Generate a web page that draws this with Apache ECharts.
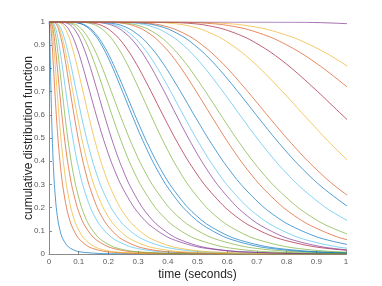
<!DOCTYPE html>
<html><head><meta charset="utf-8">
<script src="https://cdn.jsdelivr.net/npm/echarts@6/dist/echarts.min.js"></script>
<style>html,body{margin:0;padding:0;background:#fff}#c{width:382px;height:286px}</style>
</head><body><div id="c"></div>
<script>
// survival levels at which each curve's crossing time was read
const levels = [0.999, 0.99, 0.97, 0.93, 0.87, 0.8, 0.7, 0.6, 0.5, 0.4, 0.3, 0.2, 0.13, 0.07, 0.03, 0.01, 0.001];
const xTicks = [0, 0.1, 0.2, 0.3, 0.4, 0.5, 0.6, 0.7, 0.8, 0.9, 1];
const yTicks = [0, 0.1, 0.2, 0.3, 0.4, 0.5, 0.6, 0.7, 0.8, 0.9, 1];
// crossing times (seconds) of each curve at the levels above
const c01 = [0.00058, 0.00121, 0.00184, 0.00271, 0.00377, 0.00494, 0.00668, 0.00865, 0.011, 0.01399, 0.0181, 0.02447, 0.03206, 0.0447, 0.0657, 0.1002, 0.2071];
const c02 = [0.00253, 0.00467, 0.00666, 0.00921, 0.01219, 0.0153, 0.01972, 0.0245, 0.030, 0.03674, 0.04564, 0.05882, 0.07385, 0.0977, 0.1351, 0.1929, 0.3555];
const c03 = [0.00432, 0.0075, 0.01032, 0.01382, 0.01778, 0.02182, 0.02742, 0.03333, 0.040, 0.048, 0.05835, 0.07332, 0.08998, 0.1158, 0.155, 0.2135, 0.370];
const c04 = [0.00562, 0.00974, 0.01342, 0.01797, 0.02311, 0.02837, 0.03565, 0.04333, 0.052, 0.0624, 0.07586, 0.09532, 0.117, 0.1505, 0.2014, 0.2775, 0.481];
const c05 = [0.0082, 0.01357, 0.0182, 0.02378, 0.02996, 0.03615, 0.04457, 0.0533, 0.063, 0.07447, 0.08906, 0.1098, 0.1325, 0.1669, 0.218, 0.2924, 0.4842];
const c06 = [0.0104, 0.01723, 0.02311, 0.0302, 0.03805, 0.0459, 0.05659, 0.06768, 0.080, 0.09456, 0.1131, 0.1394, 0.1682, 0.2119, 0.2769, 0.3714, 0.6149];
const c07 = [0.01535, 0.02427, 0.0317, 0.04043, 0.04987, 0.05914, 0.07155, 0.08418, 0.098, 0.1141, 0.1342, 0.1624, 0.1926, 0.2376, 0.3029, 0.3956, 0.6257];
const c08 = [0.01723, 0.02725, 0.03559, 0.04538, 0.05598, 0.06639, 0.08031, 0.09449, 0.110, 0.1281, 0.1507, 0.1823, 0.2162, 0.2667, 0.34, 0.4441, 0.7024];
const c09 = [0.01973, 0.03121, 0.04076, 0.05198, 0.06412, 0.07604, 0.09199, 0.1082, 0.126, 0.1467, 0.1726, 0.2088, 0.2476, 0.3055, 0.3895, 0.5087, 0.8045];
const c10 = [0.02865, 0.04329, 0.05504, 0.06851, 0.08275, 0.09649, 0.1145, 0.1326, 0.152, 0.1743, 0.2018, 0.2395, 0.2792, 0.3373, 0.4197, 0.5337, 0.8064];
const c11 = [0.03431, 0.05183, 0.0659, 0.08203, 0.09908, 0.1155, 0.1371, 0.1587, 0.182, 0.2087, 0.2416, 0.2867, 0.3343, 0.4038, 0.5026, 0.639, 0.9655];
const c12 = [0.04765, 0.06875, 0.08513, 0.1034, 0.1223, 0.1402, 0.1633, 0.186, 0.210, 0.2372, 0.2701, 0.3145, 0.3605, 0.4265, 0.518, 0.6413, 0.9255];
const c13 = [0.05423, 0.07825, 0.09689, 0.1177, 0.1392, 0.1596, 0.1858, 0.2116, 0.239, 0.2699, 0.3074, 0.358, 0.4103, 0.4854, 0.5895, 0.7299, 1.0533];
const c14 = [0.06126, 0.0884, 0.1095, 0.1329, 0.1572, 0.1803, 0.2099, 0.2391, 0.270, 0.3049, 0.3473, 0.4044, 0.4636, 0.5484, 0.666, 0.8246, 1.1899];
const c15 = [0.08012, 0.1121, 0.1364, 0.163, 0.1901, 0.2154, 0.2477, 0.2791, 0.312, 0.3488, 0.393, 0.4518, 0.5121, 0.5973, 0.7138, 0.8683, 1.2149];
const c16 = [0.08295, 0.1161, 0.1412, 0.1687, 0.1968, 0.223, 0.2565, 0.2889, 0.323, 0.3611, 0.4068, 0.4678, 0.5301, 0.6184, 0.739, 0.8989, 1.2578];
const c17 = [0.1101, 0.1495, 0.1786, 0.21, 0.2415, 0.2707, 0.3073, 0.3425, 0.379, 0.4194, 0.4675, 0.5307, 0.5947, 0.684, 0.8043, 0.961, 1.3045];
const c18 = [0.1232, 0.1672, 0.1998, 0.2349, 0.2702, 0.3028, 0.3438, 0.3832, 0.424, 0.4692, 0.523, 0.5937, 0.6653, 0.7652, 0.8998, 1.0751, 1.4594];
const c19 = [0.1542, 0.203, 0.2383, 0.2757, 0.3127, 0.3464, 0.3883, 0.4281, 0.469, 0.5138, 0.5665, 0.635, 0.7035, 0.7979, 0.9231, 1.0835, 1.4266];
const c20 = [0.1628, 0.2142, 0.2515, 0.291, 0.33, 0.3656, 0.4099, 0.4518, 0.495, 0.5423, 0.5979, 0.6702, 0.7425, 0.8421, 0.9743, 1.1436, 1.5056];
const c21 = [0.1759, 0.2315, 0.2718, 0.3145, 0.3567, 0.3952, 0.443, 0.4883, 0.535, 0.5861, 0.6462, 0.7243, 0.8024, 0.9102, 1.053, 1.236, 1.6273];
const c22 = [0.2074, 0.2689, 0.3128, 0.359, 0.4044, 0.4455, 0.4962, 0.5441, 0.593, 0.6463, 0.7088, 0.7894, 0.8696, 0.9795, 1.1241, 1.3076, 1.6956];
const c23 = [0.2203, 0.2857, 0.3323, 0.3814, 0.4296, 0.4733, 0.5271, 0.578, 0.63, 0.6866, 0.753, 0.8387, 0.9238, 1.0406, 1.1942, 1.3892, 1.8014];
const c24 = [0.2448, 0.3175, 0.3693, 0.4238, 0.4773, 0.5258, 0.5857, 0.6423, 0.70, 0.7629, 0.8366, 0.9318, 1.0265, 1.1562, 1.3269, 1.5436, 2.0016];
const c25 = [0.2658, 0.3447, 0.4009, 0.4601, 0.5182, 0.5709, 0.6359, 0.6973, 0.76, 0.8283, 0.9084, 1.0117, 1.1145, 1.2553, 1.4407, 1.6759, 2.1731];
const c26 = [0.2798, 0.3628, 0.422, 0.4843, 0.5455, 0.601, 0.6694, 0.734, 0.80, 0.8719, 0.9562, 1.065, 1.1731, 1.3214, 1.5165, 1.7641, 2.2875];
const c27 = [0.346, 0.4418, 0.5095, 0.58, 0.6486, 0.7104, 0.7863, 0.8576, 0.93, 1.0086, 1.0999, 1.2174, 1.3334, 1.4914, 1.6978, 1.9577, 2.4998];
const c28 = [0.398, 0.5084, 0.5861, 0.6673, 0.7462, 0.8174, 0.9047, 0.9866, 1.07, 1.1604, 1.2655, 1.4006, 1.5342, 1.716, 1.9534, 2.2524, 2.8762];
const c29 = [0.4501, 0.5749, 0.6628, 0.7546, 0.8439, 0.9243, 1.023, 1.1157, 1.21, 1.3122, 1.4311, 1.5839, 1.7349, 1.9405, 2.209, 2.5471, 3.2525];
const c30 = [0.4948, 0.6319, 0.7286, 0.8294, 0.9275, 1.016, 1.1245, 1.2264, 1.33, 1.4424, 1.573, 1.741, 1.907, 2.1329, 2.428, 2.7997, 3.575];
const c31 = [0.842, 1.0428, 1.1812, 1.323, 1.4592, 1.5802, 1.727, 1.863, 2.0, 2.147, 2.3162, 2.5314, 2.7414, 3.0236, 3.3866, 3.8362, 4.7508];
const curveTimes = [c01,c02,c03,c04,c05,c06,c07,c08,c09,c10,c11,c12,c13,c14,c15,c16,c17,c18,c19,c20,c21,c22,c23,c24,c25,c26,c27,c28,c29,c30,c31];
const curveColors = ['blue','orange','yellow','orange','green','lightblue','orange','yellow','lightblue','yellow','purple','purple','green','green','blue','blue','green','red','purple','lightblue','blue','orange','green','lightblue','blue','orange','yellow','red','orange','yellow','purple'];
const palette = {blue:'#0072BD', orange:'#D95319', yellow:'#EDB120', purple:'#7E2F8E', green:'#77AC30', lightblue:'#4DBEEE', red:'#A2142F'};

const series = curveTimes.map((ts, i) => {
  const data = [[0, 1]];
  ts.forEach((t, k) => data.push([t, levels[k]]));
  data.push([6, 0]);
  return {
    type: 'line', data, showSymbol: false, smooth: 0.25, clip: true,
    lineStyle: {width: 1, color: palette[curveColors[i]], opacity: 0.68},
    silent: true, animation: false
  };
});

const axisCommon = {
  type: 'value', min: 0, max: 1, interval: 0.1,
  axisLine: {show: true, lineStyle: {color: '#8a8a8a', width: 1}},
  axisTick: {show: true, inside: true, length: 3, lineStyle: {color: '#8a8a8a'}},
  splitLine: {show: false},
  nameLocation: 'middle',
  nameMoveOverlap: false,
  nameTextStyle: {fontFamily: 'Liberation Sans', fontSize: 12, color: '#262626'}
};
const chart = echarts.init(document.getElementById('c'), null, {renderer: 'canvas'});
chart.setOption({
  animation: false,
  backgroundColor: '#fff',
  grid: {left: 49, right: 36, top: 22, bottom: 32},
  xAxis: Object.assign({}, axisCommon, {
    name: 'time (seconds)', nameGap: 15,
    axisLabel: {fontFamily: 'Liberation Sans', fontSize: 8, color: '#5a5a5a', margin: 4,
      formatter: v => { const t = xTicks.find(x => Math.abs(x - v) < 1e-9); return t === undefined ? '' : String(t); }}
  }),
  yAxis: Object.assign({}, axisCommon, {
    name: 'cumulative distribution function', nameGap: 14, nameRotate: 90,
    axisLabel: {fontFamily: 'Liberation Sans', fontSize: 8, color: '#5a5a5a', margin: 4,
      formatter: v => { const t = yTicks.find(x => Math.abs(x - v) < 1e-9); return t === undefined ? '' : String(t); }}
  }),
  series
});
</script></body></html>
